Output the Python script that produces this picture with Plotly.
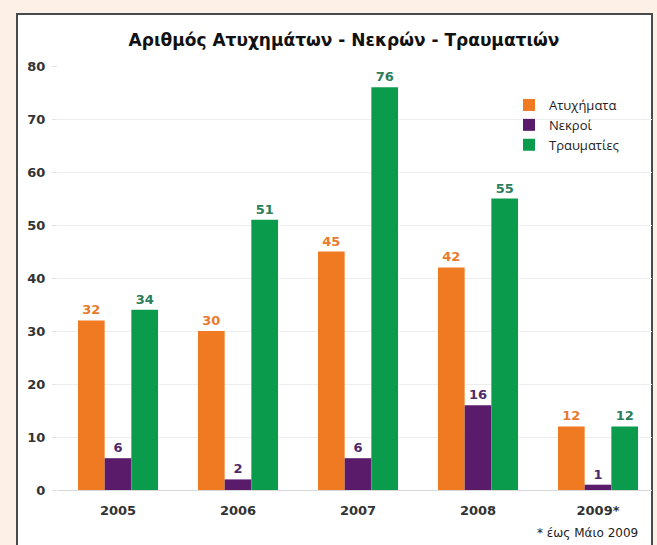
import plotly.graph_objects as go

years = ["2005", "2006", "2007", "2008", "2009*"]
accidents = [32, 30, 45, 42, 12]
deaths = [6, 2, 6, 16, 1]
injured = [34, 51, 76, 55, 12]
series_names = ["Ατυχήματα", "Νεκροί", "Τραυματίες"]
title_text = "Αριθμός Ατυχημάτων - Νεκρών - Τραυματιών"
footnote = "* έως Μάιο 2009"

bar_colors = ["#F07A22", "#5A1B6B", "#0B9B4C"]
label_colors = ["#E97A2C", "#4E2A6C", "#2B7D5C"]
FONT = "DejaVu Sans"

fig = go.Figure()
for name, vals, bc, lc in zip(series_names, [accidents, deaths, injured], bar_colors, label_colors):
    fig.add_trace(go.Bar(
        x=years, y=vals, name=name,
        marker=dict(color=bc, line=dict(width=0)),
        text=[str(v) for v in vals], textposition="outside",
        textfont=dict(family=FONT, size=13, color=lc, weight="bold"),
        cliponaxis=False,
    ))

L, R_px, T, B = 58, 652, 66, 490
W, H = 657, 545
pw, ph = R_px - L, B - T

def px_x(p):
    return (p - L) / pw

def px_y(p):
    return (B - p) / ph

fig.add_shape(type="rect", xref="paper", yref="paper",
              x0=px_x(17), x1=px_x(652), y0=px_y(600), y1=px_y(14),
              fillcolor="white", line=dict(color="#4a4a4a", width=2), layer="below")

fig.update_layout(
    width=W, height=H,
    margin=dict(l=L, r=W - R_px, t=T, b=H - B, pad=0),
    paper_bgcolor="#FDF0E6", plot_bgcolor="rgba(0,0,0,0)",
    barmode="group", bargap=0.333, bargroupgap=0,
    showlegend=True,
    legend=dict(x=px_x(509), y=px_y(90), xanchor="left", yanchor="top",
                bgcolor="rgba(0,0,0,0)", font=dict(family="Open Sans", size=13, color="#222222"),
                itemwidth=30, tracegroupgap=0),
    title=dict(text=title_text, x=344 / W, xanchor="center", y=1 - 40 / H, yanchor="middle",
               font=dict(family=FONT, size=17, color="#111111", weight="bold")),
    font=dict(family=FONT),
)
fig.update_xaxes(range=[-0.5, 4.45], showgrid=False, showline=True, linecolor="#d8d8d8", linewidth=1,
                 ticks="", tickfont=dict(family=FONT, size=13, color="#333333", weight="bold"),
                 ticklabelstandoff=8)
fig.update_yaxes(range=[0, 80], dtick=10, showgrid=True, gridcolor="#eeeeee", gridwidth=1,
                 zeroline=False, showline=False, ticks="outside", ticklen=5, tickcolor="#e4e4e4",
                 ticklabelstandoff=4,
                 tickfont=dict(family=FONT, size=13, color="#333333", weight="bold"))

fig.add_annotation(text=footnote, xref="paper", yref="paper", x=px_x(640), y=px_y(533),
                   xanchor="right", yanchor="middle", showarrow=False,
                   font=dict(family=FONT, size=12, color="#222222"))

fig.write_html("out.html", config={"displayModeBar": False},
               post_script="document.body.style.margin='0';document.body.style.overflow='hidden';")
